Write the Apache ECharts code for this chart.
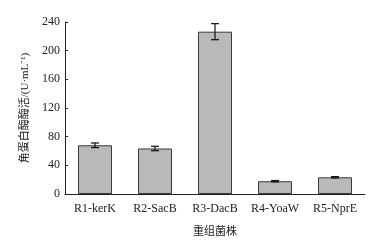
<!DOCTYPE html>
<html>
<head>
<meta charset="utf-8">
<script src="https://cdn.jsdelivr.net/npm/echarts@6/dist/echarts.min.js"></script>
<style>
  html, body { margin: 0; padding: 0; background: #fff; }
  #myChart { width: 381px; height: 243px; }
</style>
</head>
<body>
<div id="myChart"></div>
<script>
// 菌株
var strains = ['R1-kerK', 'R2-SacB', 'R3-DacB', 'R4-YoaW', 'R5-NprE'];
// 酶活均值
var activity = [68, 63.5, 226.5, 17.8, 23.3];
// 标准差
var errors = [3.2, 3.1, 11.2, 1.0, 1.0];
var yTicks = [0, 40, 80, 120, 160, 200, 240];

var serif = '"Liberation Serif", "Times New Roman", "Noto Sans CJK SC", serif';

let errData = activity.map(function (v, i) {
  return [i, v - errors[i], v + errors[i]];
});

let myChart = echarts.init(document.getElementById('myChart'));
myChart.setOption({
  animation: false,
  grid: { left: 65, right: 16, top: 22, bottom: 46 },
  xAxis: {
    type: 'category',
    data: strains,
    name: '重组菌株',
    nameLocation: 'middle',
    nameGap: 33,
    nameTextStyle: { fontFamily: serif, fontSize: 11, color: '#222' },
    axisLine: { lineStyle: { color: '#222', width: 1 } },
    axisTick: { inside: true, length: 3, lineStyle: { color: '#222' } },
    axisLabel: { interval: 0, fontFamily: serif, fontSize: 12, color: '#222', margin: 9 }
  },
  yAxis: {
    type: 'value',
    min: yTicks[0],
    max: yTicks[yTicks.length - 1],
    interval: 40,
    name: '角蛋白酶酶活/(U·mL⁻¹)',
    nameLocation: 'middle',
    nameGap: 33,
    nameTextStyle: { fontFamily: serif, fontSize: 11, color: '#222' },
    splitLine: { show: false },
    axisLine: { show: true, lineStyle: { color: '#222', width: 1 } },
    axisTick: { show: true, inside: true, length: 3, lineStyle: { color: '#222' } },
    axisLabel: { fontFamily: serif, fontSize: 12, color: '#222', margin: 5 }
  },
  series: [
    {
      type: 'bar',
      data: activity,
      barWidth: 34,
      itemStyle: { color: '#b9b9b9', borderColor: '#3a3a3a', borderWidth: 1 }
    },
    {
      type: 'custom',
      data: errData,
      z: 10,
      renderItem: function (params, api) {
        let x = api.value(0);
        let lo = api.coord([x, api.value(1)]);
        let hi = api.coord([x, api.value(2)]);
        let w = 4;
        let st = { stroke: '#111', lineWidth: 1.2 };
        return {
          type: 'group',
          children: [
            { type: 'line', shape: { x1: hi[0], y1: hi[1], x2: lo[0], y2: lo[1] }, style: st },
            { type: 'line', shape: { x1: hi[0] - w, y1: hi[1], x2: hi[0] + w, y2: hi[1] }, style: st },
            { type: 'line', shape: { x1: lo[0] - w, y1: lo[1], x2: lo[0] + w, y2: lo[1] }, style: st }
          ]
        };
      }
    }
  ]
});
</script>
</body>
</html>
